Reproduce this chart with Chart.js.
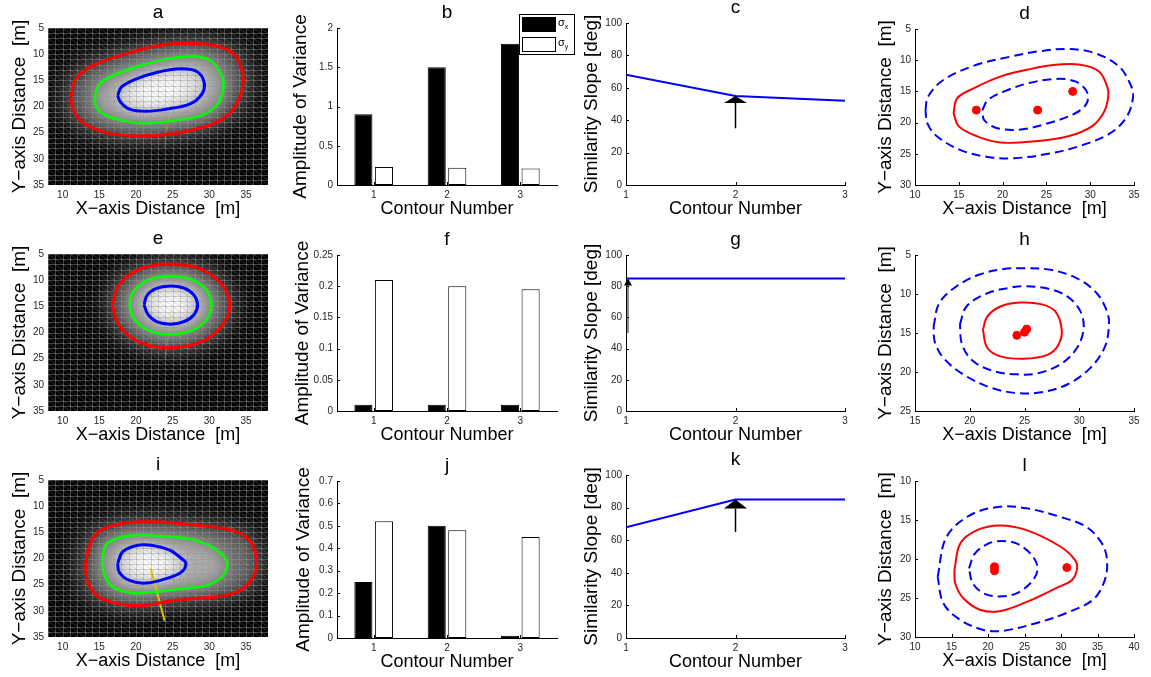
<!DOCTYPE html>
<html>
<head>
<meta charset="utf-8">
<script src="https://cdn.jsdelivr.net/npm/chart.js@4.4.1/dist/chart.umd.min.js"></script>
<style>
html, body { margin: 0; padding: 0; background: #fff; }
#fig { position: relative; width: 1151px; height: 677px; overflow: hidden; }
#fig canvas { position: absolute; }
</style>
</head>
<body>
<div id="fig"></div>
<script>
const FONT = "'Liberation Sans', Arial, Helvetica, sans-serif";

// ---------- axis ticks
const heatXTicks = [10, 15, 20, 25, 30, 35];
const heatYTicks = [5, 10, 15, 20, 25, 30, 35];
const slopeXTicks = [1, 2, 3];
const slopeYTicks = [0, 20, 40, 60, 80, 100];
const dXTicks = [10, 15, 20, 25, 30, 35];
const dYTicks = [5, 10, 15, 20, 25, 30];
const hXTicks = [15, 20, 25, 30, 35];
const hYTicks = [5, 10, 15, 20, 25];
const lXTicks = [10, 15, 20, 25, 30, 35, 40];
const lYTicks = [10, 15, 20, 25, 30];
const bYTicks = [0, 0.5, 1, 1.5, 2];
const fYTicks = [0, 0.05, 0.1, 0.15, 0.2, 0.25];
const jYTicks = [0, 0.1, 0.2, 0.3, 0.4, 0.5, 0.6, 0.7];

// ---------- bar panels (b, f, j)
const contourNumbers = ['1', '2', '3'];
const bSigmaX = [0.9, 1.5, 1.8];
const bSigmaY = [0.23, 0.22, 0.21];
const fSigmaX = [0.01, 0.01, 0.01];
const fSigmaY = [0.21, 0.2, 0.195];
const jSigmaX = [0.25, 0.5, 0.01];
const jSigmaY = [0.52, 0.48, 0.45];

// ---------- similarity slope panels (c, g, k)
const slopeX = [1, 2, 3];
const cSlope = [68, 55, 52];
const gSlope = [85, 85, 85];
const kSlope = [68, 85, 85];
// arrow: [x, from, to]
const cArrow = [2, 35, 55];
const gArrow = [1, 50, 85];
const kArrow = [2, 65, 85];

// ---------- heat map contours (a, e, i)  [x, y]
const aRed = [[11.1,18.2],[11.8,14.7],[14.1,12.2],[18.7,9.9],[23.3,8.3],[26.9,7.9],[30.6,8.3],[33.3,9.9],[34.5,13.4],[34.5,16.6],[33.3,20.5],[31.0,23.0],[27.4,24.6],[23.3,25.5],[19.6,25.6],[15.9,25.0],[12.7,23.0],[11.4,20.5]];
const aGreen = [[14.4,17.9],[15.0,15.7],[17.3,13.8],[20.5,12.2],[24.2,10.9],[27.8,10.4],[30.1,11.2],[31.6,13.8],[31.9,16.6],[31.0,19.8],[28.7,21.8],[25.1,22.7],[21.4,23.2],[18.2,22.7],[15.5,21.4],[14.5,19.8]];
const aBlue = [[17.5,17.9],[18.0,16.3],[20.1,14.7],[22.8,13.5],[26.0,12.8],[28.3,13.3],[29.3,15.4],[29.0,17.6],[27.4,19.5],[24.2,20.5],[21.4,20.9],[19.1,20.5],[17.9,19.2]];
const aAxis = [[24.9,17.9],[23.9,27.8]];

const eRed = [[16.8,14.7],[17.4,11.6],[19.1,9.0],[21.6,7.4],[24.7,6.9],[27.8,7.4],[30.3,9.0],[32.1,11.6],[32.8,14.7],[32.1,17.9],[30.3,20.7],[27.6,22.4],[24.5,22.9],[21.5,22.4],[19.0,20.6],[17.4,17.9]];
const eGreen = [[19.1,14.7],[19.5,12.5],[20.8,10.6],[22.6,9.5],[24.6,9.2],[26.7,9.5],[28.6,10.6],[29.9,12.5],[30.3,14.7],[29.9,16.9],[28.6,18.9],[26.7,20.0],[24.6,20.4],[22.5,20.0],[20.7,18.8],[19.5,16.9]];
const eBlue = [[21.1,14.7],[21.5,12.9],[22.7,11.6],[24.7,11.1],[26.5,11.5],[27.8,12.7],[28.4,14.7],[27.9,16.6],[26.6,17.9],[24.7,18.4],[22.8,17.9],[21.6,16.5]];
const eAxis = [[24.9,14.7],[24.0,25.0]];

const iRed = [[13.1,21.3],[13.7,17.4],[15.0,14.8],[17.8,13.4],[21.0,13.0],[25.1,13.2],[28.7,13.7],[33.3,14.7],[35.6,16.7],[36.4,20.0],[36.1,23.2],[34.2,26.1],[31.5,27.2],[27.8,27.7],[24.2,28.2],[21.0,29.0],[17.8,28.7],[15.0,27.4],[13.4,24.5]];
const iGreen = [[15.4,20.3],[15.9,17.4],[17.8,16.0],[20.5,15.5],[24.2,15.8],[27.8,16.4],[30.6,18.0],[32.4,20.6],[31.9,23.2],[29.7,25.1],[26.0,25.8],[22.3,26.4],[19.6,26.6],[16.9,25.5],[15.6,22.9]];
const iBlue = [[17.5,20.9],[18.2,18.7],[20.1,17.5],[22.3,17.5],[24.6,18.4],[26.2,20.0],[26.8,20.9],[26.2,22.6],[24.2,23.8],[21.4,24.7],[19.1,24.2],[17.7,22.6]];
const iAxis = [[22.0,21.9],[23.9,31.9]];

// ---------- contour outline panels (d, h, l)
const dOuter = [[11.2,18.0],[11.5,15.8],[13.3,13.1],[17.1,10.7],[21.0,9.4],[24.0,8.6],[27.5,8.2],[30.6,8.9],[33.3,11.0],[34.6,13.9],[34.9,15.8],[34.2,19.0],[32.3,21.7],[28.7,23.8],[25.2,25.0],[21.4,25.7],[18.3,25.5],[15.2,24.4],[12.5,22.2],[11.4,20.1]];
const dMid = [[14.4,18.5],[14.8,16.1],[16.7,14.5],[19.8,12.6],[22.9,11.5],[25.6,10.8],[28.7,10.7],[31.0,11.8],[32.0,14.5],[32.0,16.4],[31.5,18.5],[30.2,20.6],[27.5,22.2],[23.7,23.0],[19.8,23.2],[17.1,22.2],[15.0,20.6]];
const dInner = [[17.7,18.0],[18.3,16.4],[20.2,15.0],[22.9,13.7],[26.0,13.0],[28.3,13.4],[29.6,15.0],[29.6,16.9],[28.3,18.5],[25.2,20.1],[22.1,21.1],[19.4,20.9],[17.9,19.6]];
const dDots = [[17,18],[24,18],[28,15]];

const hOuter = [[16.7,14.2],[17.2,11.2],[18.8,9.0],[20.9,7.5],[23.1,6.8],[24.9,6.7],[27.4,6.9],[29.8,8.0],[31.6,9.9],[32.6,12.5],[32.7,14.4],[32.3,16.9],[31.0,19.5],[28.9,21.6],[26.5,22.6],[24.3,22.7],[21.9,22.0],[19.4,20.3],[17.6,18.2],[16.8,16.1]];
const hMid = [[19.1,13.9],[19.7,11.6],[21.6,9.9],[23.7,9.2],[24.9,9.0],[27.1,9.3],[28.9,10.3],[30.1,12.2],[30.4,14.4],[29.8,16.9],[28.3,19.0],[26.1,20.2],[24.3,20.3],[22.2,19.9],[20.3,18.6],[19.3,16.5]];
const hInner = [[21.2,14.6],[21.6,12.9],[22.8,11.6],[24.6,11.1],[26.5,11.3],[27.8,12.2],[28.4,14.6],[28.1,16.5],[27.1,17.8],[24.9,18.3],[22.8,18.0],[21.6,16.9]];
const hDots = [[24.3,15.3],[25.0,14.9],[25.2,14.5]];

const lOuter = [[13.1,22.3],[14.3,17.2],[17.5,14.4],[21.6,13.3],[25.3,13.5],[29.9,14.6],[33.5,15.9],[35.6,18.0],[36.3,20.1],[36.0,22.7],[34.4,25.2],[30.8,26.9],[26.7,28.2],[22.1,29.2],[19.4,29.1],[16.2,27.8],[13.9,25.7]];
const lMid = [[15.4,21.4],[16.2,18.0],[18.5,16.3],[21.6,15.7],[25.3,16.3],[29.9,18.4],[31.9,20.1],[32.2,21.2],[31.5,22.7],[29.4,23.7],[25.3,25.5],[21.6,26.7],[18.9,26.5],[16.6,25.0],[15.5,23.1]];
const lInner = [[17.4,21.2],[18.2,19.3],[20.1,18.0],[21.9,17.7],[23.9,18.0],[26.0,19.5],[26.8,21.2],[26.0,22.9],[23.9,24.4],[21.6,24.8],[19.4,24.4],[17.9,23.1]];
const lDots = [[20.9,21.0],[20.9,21.5],[30.8,21.1]];

// ---------- layout
const Y_W = 48, X_H = 44, TOP_H = 28, RIGHT_P = 20;
const fig = document.getElementById('fig');
const specs = {};

Chart.defaults.font.family = FONT;
Chart.defaults.color = '#262626';

const toXY = pts => pts.map(p => ({ x: p[0], y: p[1] }));
const loop = pts => toXY(pts.concat([pts[0]]));
const plainTick = v => String(Math.round(v * 1000) / 1000);

function pathLine(label, pts, color, width, dash) {
  return {
    label, data: loop(pts), showLine: true, borderColor: color, borderWidth: width,
    borderDash: dash || [], pointRadius: 0, tension: 0.35, fill: false
  };
}

function withTicks(values) {
  return s => { s.ticks = values.map(v => ({ value: v })); };
}

function xAxis(title, extra) {
  return Object.assign({
    grid: { display: false, drawTicks: false },
    border: { display: true, color: '#000', width: 1 },
    ticks: { font: { size: 10 }, color: '#262626', padding: 4, maxRotation: 0, autoSkip: false },
    title: { display: true, text: title, color: '#000', font: { size: 18, lineHeight: '20px' }, padding: { top: 0, bottom: 10 } },
    afterFit: s => { s.height = X_H; }
  }, extra);
}

function yAxis(extra) {
  return Object.assign({
    grid: { display: false, drawTicks: false },
    border: { display: true, color: '#000', width: 1 },
    ticks: { font: { size: 10 }, color: '#262626', padding: 4, autoSkip: false, callback: plainTick },
    title: { display: false },
    afterFit: s => { s.width = Y_W; }
  }, extra);
}

const figPlugin = {
  id: 'figPanel',
  beforeDatasetsDraw(chart) {
    const s = specs[chart.canvas.id];
    if (!s || !s.heat) return;
    const { ctx, chartArea: ca } = chart;
    const x = chart.scales.x, y = chart.scales.y;
    ctx.save();
    ctx.beginPath();
    ctx.rect(ca.left, ca.top, ca.width, ca.height);
    ctx.clip();
    ctx.fillStyle = '#000';
    ctx.fillRect(ca.left, ca.top, ca.width, ca.height);
    s.heat.forEach(g => {
      let P = g.pts.map(p => [x.getPixelForValue(p[0]), y.getPixelForValue(p[1])]);
      if (g.scale !== 1) {
        const cx = P.reduce((a, p) => a + p[0], 0) / P.length;
        const cy = P.reduce((a, p) => a + p[1], 0) / P.length;
        P = P.map(p => [cx + (p[0] - cx) * g.scale, cy + (p[1] - cy) * g.scale]);
      }
      ctx.filter = 'blur(' + g.blur + 'px)';
      ctx.fillStyle = g.color;
      ctx.beginPath();
      P.forEach((p, i) => (i ? ctx.lineTo(p[0], p[1]) : ctx.moveTo(p[0], p[1])));
      ctx.closePath();
      ctx.fill();
    });
    ctx.filter = 'none';
    // triangulated mesh overlay
    ctx.lineWidth = 1;
    ctx.strokeStyle = 'rgba(150,150,150,0.45)';
    ctx.beginPath();
    for (let v = Math.ceil(x.min); v <= x.max; v++) {
      const p = Math.round(x.getPixelForValue(v)) + 0.5;
      ctx.moveTo(p, ca.top); ctx.lineTo(p, ca.bottom);
    }
    for (let v = Math.ceil(y.min); v <= y.max; v++) {
      const p = Math.round(y.getPixelForValue(v)) + 0.5;
      ctx.moveTo(ca.left, p); ctx.lineTo(ca.right, p);
    }
    ctx.stroke();
    ctx.strokeStyle = 'rgba(150,150,150,0.3)';
    ctx.beginPath();
    for (let i = Math.floor(x.min); i < x.max; i++) {
      for (let j = Math.floor(y.min); j < y.max; j++) {
        ctx.moveTo(x.getPixelForValue(i), y.getPixelForValue(j));
        ctx.lineTo(x.getPixelForValue(i + 1), y.getPixelForValue(j + 1));
      }
    }
    ctx.stroke();
    ctx.restore();
  },
  afterDatasetsDraw(chart) {
    const s = specs[chart.canvas.id];
    if (!s || !s.arrow) return;
    const { ctx } = chart;
    const a = s.arrow;
    const xp = chart.scales.x.getPixelForValue(a.at[0]) + (a.dx || 0);
    const y0 = chart.scales.y.getPixelForValue(a.at[1]);
    const y1 = chart.scales.y.getPixelForValue(a.at[2]);
    ctx.save();
    ctx.strokeStyle = a.color;
    ctx.lineWidth = a.lw;
    ctx.beginPath();
    ctx.moveTo(xp, y0);
    ctx.lineTo(xp, y1 + a.headH);
    ctx.stroke();
    ctx.fillStyle = '#000';
    ctx.beginPath();
    ctx.moveTo(xp, y1);
    ctx.lineTo(xp - a.headW / 2, y1 + a.headH);
    ctx.lineTo(xp + a.headW / 2, y1 + a.headH);
    ctx.closePath();
    ctx.fill();
    ctx.restore();
  },
  afterDraw(chart) {
    const s = specs[chart.canvas.id];
    if (!s) return;
    const { ctx, chartArea: ca } = chart;
    ctx.save();
    // inward tick marks
    if (!s.heat) {
      ctx.strokeStyle = '#000';
      ctx.lineWidth = 1;
      ctx.beginPath();
      const xs = chart.scales.x, ys = chart.scales.y;
      xs.ticks.forEach((t, i) => {
        const p = Math.round(xs.getPixelForTick(i)) + 0.5;
        ctx.moveTo(p, ca.bottom); ctx.lineTo(p, ca.bottom - 3);
      });
      ys.ticks.forEach((t, i) => {
        const p = Math.round(ys.getPixelForTick(i)) + 0.5;
        ctx.moveTo(ca.left, p); ctx.lineTo(ca.left + 3, p);
      });
      ctx.stroke();
    }
    // y axis title (may be longer than the axis)
    ctx.translate(ca.left - s.yOff, (ca.top + ca.bottom) / 2);
    ctx.rotate(-Math.PI / 2);
    ctx.fillStyle = '#000';
    ctx.font = '19px ' + FONT;
    ctx.textAlign = 'center';
    ctx.textBaseline = 'middle';
    ctx.fillText(s.yTitle, 0, 0);
    ctx.restore();
    // legend
    if (s.legend) {
      const L = ca.right - 38, T = ca.top - 14;
      ctx.save();
      ctx.fillStyle = '#fff';
      ctx.fillRect(L, T, 55, 40);
      ctx.strokeStyle = '#000';
      ctx.lineWidth = 1;
      ctx.strokeRect(L + 0.5, T + 0.5, 55, 40);
      chart.data.datasets.forEach((ds, i) => {
        const sy = T + 3 + i * 20;
        ctx.fillStyle = ds.backgroundColor;
        ctx.fillRect(L + 3, sy, 33, 14);
        ctx.strokeStyle = '#000';
        ctx.strokeRect(L + 3.5, sy + 0.5, 33, 14);
        ctx.fillStyle = '#000';
        ctx.textBaseline = 'middle';
        ctx.textAlign = 'left';
        ctx.font = '11px ' + FONT;
        ctx.fillText(ds.label.charAt(0), L + 39, sy + 6);
        const w = ctx.measureText(ds.label.charAt(0)).width;
        ctx.font = '7px ' + FONT;
        ctx.fillText(ds.label.slice(1), L + 39 + w, sy + 10);
      });
      ctx.restore();
    }
  }
};
Chart.register(figPlugin);

function makePanel(id, rect, spec, config) {
  const [l, t, r, b] = rect;
  const cv = document.createElement('canvas');
  cv.id = id;
  cv.width = r - l + Y_W + RIGHT_P;
  cv.height = b - t + TOP_H + X_H;
  cv.style.left = (l - Y_W) + 'px';
  cv.style.top = (t - TOP_H) + 'px';
  fig.appendChild(cv);
  specs[id] = spec;
  config.options.responsive = false;
  config.options.animation = false;
  config.options.layout = { padding: { left: 0, top: 0, right: RIGHT_P, bottom: 0 } };
  config.options.plugins = {
    legend: { display: false },
    tooltip: { enabled: false },
    title: {
      display: true, fullSize: false, text: spec.letter, color: '#000',
      font: { size: 19, weight: 'normal', lineHeight: '20px' }, padding: { top: 3, bottom: 5 }
    }
  };
  return new Chart(cv, config);
}

const X_TITLE = 'X\u2212axis Distance  [m]';
const Y_TITLE = 'Y\u2212axis Distance  [m]';

function heatPanel(id, letter, rect, red, green, blue, axisLine, axisColor, axisWidth) {
  makePanel(id, rect, {
    letter, yOff: 28, yTitle: Y_TITLE,
    heat: [
      { pts: red, scale: 1.2, color: '#2a2a2a', blur: 12 },
      { pts: red, scale: 1, color: '#6a6a6a', blur: 9 },
      { pts: green, scale: 1, color: '#acacac', blur: 8 },
      { pts: blue, scale: 1, color: '#e2e2e2', blur: 6 },
      { pts: blue, scale: 0.6, color: '#ffffff', blur: 6 }
    ]
  }, {
    type: 'scatter',
    data: {
      datasets: [
        pathLine('contour 3', red, '#ff0000', 3),
        pathLine('contour 2', green, '#00ff00', 2.5),
        pathLine('contour 1', blue, '#0000ff', 3),
        { label: 'axis', data: toXY(axisLine), showLine: true, borderColor: axisColor, borderWidth: axisWidth, pointRadius: 0, tension: 0 }
      ]
    },
    options: {
      scales: {
        x: xAxis(X_TITLE, { type: 'linear', min: 8, max: 38, border: { display: false }, afterBuildTicks: withTicks(heatXTicks) }),
        y: yAxis({ type: 'linear', min: 5, max: 35, reverse: true, border: { display: false }, afterBuildTicks: withTicks(heatYTicks) })
      }
    }
  });
}

function barPanel(id, letter, rect, yOff, sx, sy, yMax, yTicks, legend) {
  makePanel(id, rect, { letter, yOff, yTitle: 'Amplitude of Variance', legend }, {
    type: 'bar',
    data: {
      labels: contourNumbers,
      datasets: [
        { label: '\u03c3x', data: sx, backgroundColor: '#000000', borderColor: '#000', borderWidth: 1, borderSkipped: false, categoryPercentage: 0.56, barPercentage: 0.88 },
        { label: '\u03c3y', data: sy, backgroundColor: '#ffffff', borderColor: '#000', borderWidth: 1, borderSkipped: false, categoryPercentage: 0.56, barPercentage: 0.88 }
      ]
    },
    options: {
      scales: {
        x: xAxis('Contour Number', { type: 'category' }),
        y: yAxis({ type: 'linear', min: 0, max: yMax, afterBuildTicks: withTicks(yTicks) })
      }
    }
  });
}

function slopePanel(id, letter, rect, yOff, values, arrow, arrowStyle) {
  makePanel(id, rect, { letter, yOff, yTitle: 'Similarity Slope [deg]', arrow: Object.assign({ at: arrow }, arrowStyle) }, {
    type: 'scatter',
    data: {
      datasets: [{
        label: 'slope', data: slopeX.map((v, i) => ({ x: v, y: values[i] })),
        showLine: true, borderColor: '#0000ff', borderWidth: 2, pointRadius: 0, tension: 0
      }]
    },
    options: {
      scales: {
        x: xAxis('Contour Number', { type: 'linear', min: 1, max: 3, afterBuildTicks: withTicks(slopeXTicks) }),
        y: yAxis({ type: 'linear', min: 0, max: 100, afterBuildTicks: withTicks(slopeYTicks) })
      }
    }
  });
}

function outlinePanel(id, letter, rect, outer, mid, inner, dots, xr, yr, xt, yt) {
  makePanel(id, rect, { letter, yOff: 29, yTitle: Y_TITLE }, {
    type: 'scatter',
    data: {
      datasets: [
        pathLine('outer', outer, '#0000ff', 2, [9, 5]),
        pathLine('middle', mid, '#ff0000', 2),
        pathLine('inner', inner, '#0000ff', 2, [9, 5]),
        { label: 'centres', data: toXY(dots), pointRadius: 4, pointBackgroundColor: '#ff0000', pointBorderColor: '#ff0000', showLine: false }
      ]
    },
    options: {
      scales: {
        x: xAxis(X_TITLE, { type: 'linear', min: xr[0], max: xr[1], afterBuildTicks: withTicks(xt) }),
        y: yAxis({ type: 'linear', min: yr[0], max: yr[1], reverse: true, afterBuildTicks: withTicks(yt) })
      }
    }
  });
}

const bigHead = { color: '#000', lw: 1.5, headW: 23, headH: 7 };

// row 1
heatPanel('pa', 'a', [48, 28, 268, 185], aRed, aGreen, aBlue, aAxis, 'rgba(200,200,60,0.35)', 1);
barPanel('pb', 'b', [337, 28, 557, 185], 36, bSigmaX, bSigmaY, 2, bYTicks, true);
slopePanel('pc', 'c', [626, 23, 845, 185], 34, cSlope, cArrow, bigHead);
outlinePanel('pd', 'd', [915, 29, 1134, 185], dOuter, dMid, dInner, dDots, [10, 35], [5, 30], dXTicks, dYTicks);

// row 2
heatPanel('pe', 'e', [48, 254, 268, 411], eRed, eGreen, eBlue, eAxis, 'rgba(200,200,60,0.35)', 1);
barPanel('pf', 'f', [337, 255, 557, 411], 34, fSigmaX, fSigmaY, 0.25, fYTicks, false);
slopePanel('pg', 'g', [626, 255, 845, 411], 34, gSlope, gArrow, { color: '#666', lw: 1.5, headW: 8, headH: 7, dx: 2 });
outlinePanel('ph', 'h', [915, 255, 1134, 411], hOuter, hInner, hMid, hDots, [15, 35], [5, 25], hXTicks, hYTicks);

// row 3
heatPanel('pi', 'i', [48, 480, 268, 637], iRed, iGreen, iBlue, iAxis, '#d9c400', 2);
barPanel('pj', 'j', [337, 481, 557, 638], 33, jSigmaX, jSigmaY, 0.7, jYTicks, false);
slopePanel('pk', 'k', [626, 475, 845, 638], 34, kSlope, kArrow, { color: '#000', lw: 1.5, headW: 23, headH: 9 });
outlinePanel('pl', 'l', [915, 481, 1134, 637], lOuter, lMid, lInner, lDots, [10, 40], [10, 30], lXTicks, lYTicks);
</script>
</body>
</html>
